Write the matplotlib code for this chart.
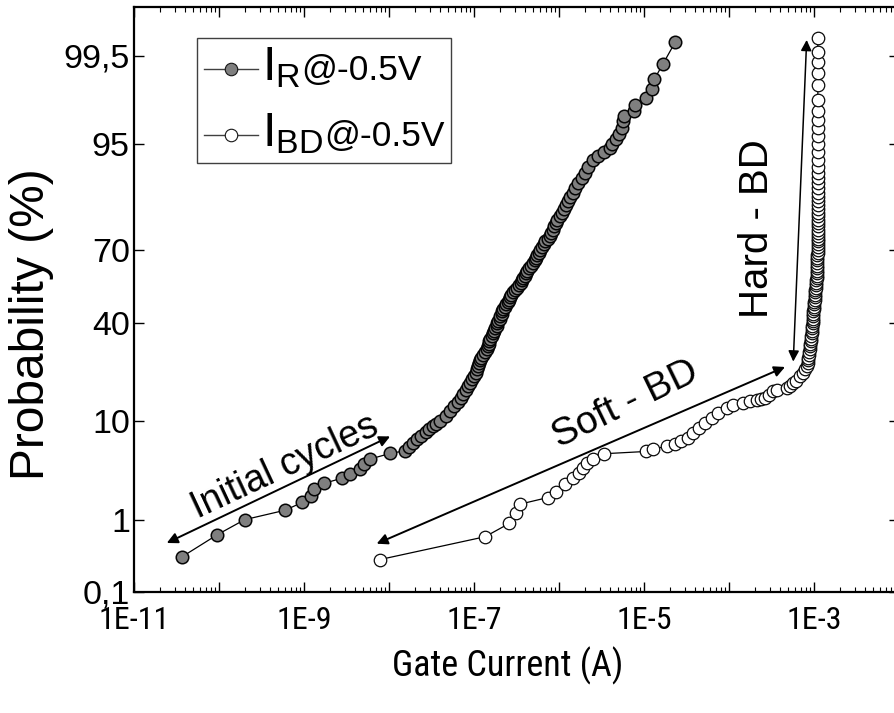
import numpy as np
import matplotlib
matplotlib.use('Agg')
import matplotlib.pyplot as plt
from matplotlib import font_manager
from matplotlib.ticker import LogLocator, FuncFormatter, FixedLocator, NullLocator
from matplotlib.offsetbox import AnchoredOffsetbox, DrawingArea, TextArea, HPacker, VPacker
from matplotlib.lines import Line2D
from statistics import NormalDist

# %% data (gate current in A, cumulative probability in %)
ir_current = [
    3.7e-11, 9.6e-11, 2.0e-10, 6.0e-10, 9.5e-10, 1.2e-9, 1.3e-9, 1.7e-9, 2.8e-9, 3.5e-9,
    4.5e-9, 5.1e-9, 6.0e-9, 1.04e-8,
    1.54e-8, 1.72e-8, 1.91e-8, 2.13e-8, 2.41e-8, 2.72e-8, 2.99e-8, 3.30e-8, 3.62e-8, 3.98e-8,
    4.69e-8, 5.23e-8, 5.82e-8, 6.49e-8, 7.03e-8, 7.51e-8, 8.05e-8, 8.49e-8, 8.97e-8,
    9.46e-8, 1.00e-7, 1.06e-7, 1.08e-7, 1.11e-7, 1.13e-7, 1.18e-7, 1.22e-7, 1.28e-7, 1.35e-7,
    1.42e-7, 1.46e-7, 1.49e-7, 1.52e-7, 1.56e-7, 1.61e-7, 1.66e-7, 1.72e-7, 1.78e-7, 1.84e-7,
    1.89e-7, 1.94e-7, 2.00e-7, 2.05e-7, 2.11e-7, 2.16e-7, 2.22e-7, 2.30e-7, 2.38e-7, 2.48e-7,
    2.55e-7, 2.65e-7, 2.76e-7, 2.90e-7, 3.03e-7, 3.21e-7, 3.38e-7, 3.57e-7, 3.72e-7, 3.77e-7,
    3.93e-7, 4.09e-7, 4.26e-7, 4.44e-7, 4.69e-7, 4.94e-7, 5.23e-7, 5.36e-7, 5.58e-7, 5.82e-7,
    5.97e-7, 6.25e-7, 6.58e-7, 6.93e-7, 7.43e-7, 7.83e-7, 8.11e-7, 8.39e-7, 8.73e-7, 9.10e-7,
    9.59e-7, 1.03e-6, 1.08e-6, 1.15e-6, 1.21e-6, 1.29e-6, 1.36e-6, 1.46e-6, 1.54e-6, 1.68e-6,
    1.84e-6, 2.00e-6, 2.19e-6, 2.51e-6, 2.88e-6, 3.38e-6, 3.98e-6, 4.25e-6, 4.69e-6, 5.08e-6,
    5.47e-6, 5.70e-6, 5.86e-6, 7.62e-6, 7.94e-6, 1.06e-5, 1.23e-5, 1.32e-5, 1.66e-5, 2.32e-5,
]
ir_prob = [
    0.33, 0.65, 1.0, 1.3, 1.6, 1.9, 2.25, 2.6, 2.95, 3.3,
    3.7, 4.1, 4.6, 5.2,
    5.5, 6, 6.5, 7, 7.5, 8, 8.5, 9, 9.5, 10,
    11, 12, 13, 14, 15, 16, 17, 18, 19,
    20, 21, 22, 23, 24, 25, 26, 27, 28, 29,
    30, 31, 32, 33, 34, 35, 36, 37, 38, 39,
    40, 41, 42, 43, 44, 45, 46, 47, 48, 49,
    50, 51, 52, 53, 54, 55, 56, 57, 58, 59,
    60, 61, 62, 63, 64, 65, 66, 67, 68, 69,
    70, 71, 72, 73, 74, 75, 76, 77, 78, 79,
    80, 81, 82, 83, 84, 85, 86, 87, 88, 89,
    90, 91, 92, 93, 93.5, 94, 94.5, 95, 95.5, 96,
    96.5, 97, 97.35, 97.7, 98.0, 98.35, 98.7, 99.0, 99.35, 99.67,
]

ibd_current = [
    7.8e-9, 1.35e-7, 2.60e-7, 3.10e-7, 3.47e-7, 7.38e-7, 9.29e-7, 1.19e-6, 1.47e-6, 1.72e-6,
    1.93e-6, 2.16e-6, 2.54e-6, 3.36e-6, 1.06e-5, 1.28e-5, 1.85e-5, 2.32e-5, 2.72e-5, 3.25e-5,
    3.80e-5, 4.44e-5, 5.23e-5, 6.25e-5, 7.48e-5, 9.4e-5, 1.12e-4, 1.47e-4, 1.77e-4, 2.12e-4,
    2.38e-4, 2.66e-4, 2.96e-4, 3.32e-4, 3.67e-4, 4.77e-4, 5.22e-4, 5.70e-4, 6.14e-4, 6.84e-4,
    7.52e-4, 7.83e-4, 8.2e-4, 8.39e-4, 8.49e-4, 8.6e-4, 8.73e-4, 8.8e-4,
    8.87e-4, 8.93e-4, 9.0e-4, 9.1e-4, 9.17e-4, 9.25e-4, 9.37e-4, 9.43e-4, 9.5e-4, 9.55e-4,
    9.62e-4, 9.68e-4, 9.73e-4, 9.76e-4, 9.8e-4, 9.86e-4, 9.9e-4, 9.96e-4, 1.005e-3, 1.01e-3,
    1.015e-3, 1.02e-3, 1.027e-3, 1.035e-3, 1.04e-3, 1.047e-3, 1.055e-3, 1.06e-3, 1.07e-3, 1.075e-3,
    1.08e-3, 1.083e-3, 1.087e-3, 1.09e-3, 1.09e-3, 1.09e-3, 1.09e-3, 1.093e-3, 1.095e-3, 1.10e-3,
    1.10e-3, 1.10e-3, 1.10e-3, 1.10e-3, 1.10e-3, 1.10e-3, 1.10e-3, 1.10e-3, 1.10e-3, 1.10e-3,
    1.10e-3, 1.10e-3, 1.10e-3, 1.10e-3, 1.10e-3, 1.10e-3, 1.105e-3, 1.105e-3, 1.105e-3, 1.105e-3,
    1.105e-3, 1.105e-3, 1.105e-3, 1.11e-3, 1.11e-3, 1.11e-3, 1.11e-3, 1.11e-3, 1.11e-3, 1.11e-3,
    1.11e-3, 1.11e-3, 1.11e-3, 1.11e-3, 1.11e-3, 1.11e-3,
]
ibd_prob = [
    0.30, 0.61, 0.90, 1.22, 1.53, 1.82, 2.1, 2.57, 2.97, 3.34,
    3.75, 4.16, 4.55, 5.16, 5.42, 5.68, 6.08, 6.38, 6.69, 7.16,
    7.92, 8.73, 9.6, 10.5, 11.6, 12.6, 13.3, 13.7, 14.1, 14.3,
    14.7, 14.9, 15.7, 16.6, 16.9, 17.5, 18.1, 18.9, 19.5, 20.8,
    22, 23, 24, 25, 26, 27, 28, 29,
    30, 31, 32, 33, 34, 35, 36, 37, 38, 39,
    40, 41, 42, 43, 44, 45, 46, 47, 48, 49,
    50, 51, 52, 53, 54, 55, 56, 57, 58, 59,
    60, 61, 62, 63, 64, 65, 66, 67, 68, 69,
    70, 71, 72, 73, 74, 75, 76, 77, 78, 79,
    80, 81, 82, 83, 84, 85, 86, 87, 88, 89,
    90, 91, 92, 93, 94, 95, 95.8, 96.5, 97.1, 97.7,
    98.25, 98.83, 99.16, 99.40, 99.56, 99.71,
]

prob_ticks = [0.1, 1, 10, 40, 70, 95, 99.5]
prob_ticklabels = ['0,1', '1', '10', '40', '70', '95', '99,5']


# %% fonts
def have_font(name):
    try:
        font_manager.findfont(font_manager.FontProperties(family=name), fallback_to_default=False)
        return True
    except Exception:
        return False

main_font = 'Liberation Sans' if have_font('Liberation Sans') else 'DejaVu Sans'

# a narrow face for the x axis texts, if one is installed
narrow_family = None
for f in ['Liberation Sans Narrow', 'Arial Narrow', 'Roboto Condensed', 'Open Sans Condensed']:
    if have_font(f):
        narrow_family = f
        break

plt.rcParams['font.family'] = [main_font, 'DejaVu Sans']


# %% probability (normal) scale
nd = NormalDist()

def _ppf(v):
    return nd.inv_cdf(v / 100.0) if np.isfinite(v) else np.nan

def _cdf(v):
    return nd.cdf(v) * 100.0 if np.isfinite(v) else np.nan

ppf_vec = np.vectorize(_ppf, otypes=[float])
cdf_vec = np.vectorize(_cdf, otypes=[float])

def prob_fwd(p):
    p = np.clip(np.asarray(p, dtype=float), 1e-7, 100 - 1e-7)
    return ppf_vec(p)

def prob_inv(z):
    return cdf_vec(np.asarray(z, dtype=float))


# %% figure
fig = plt.figure(figsize=(8.94, 7.13), dpi=100)
ax = fig.add_axes([134 / 894, 1 - 592 / 713, 765 / 894, 585 / 713])

ax.set_xscale('log')
ax.set_yscale('function', functions=(prob_fwd, prob_inv))
ax.set_xlim(1e-11, 1e-2)
ax.set_ylim(0.1, 99.9)

ax.plot(ir_current, ir_prob, '-o', color='black', lw=0.9, ms=9,
        mfc='#7f7f7f', mec='#050505', mew=1.1, zorder=3)
ax.plot(ibd_current, ibd_prob, '-o', color='black', lw=0.9, ms=9,
        mfc='white', mec='#0a0a0a', mew=0.9, zorder=3)

# ticks
ax.xaxis.set_major_locator(LogLocator(base=10, numticks=20))
ax.xaxis.set_minor_locator(LogLocator(base=10, subs=np.arange(2, 10), numticks=20))

def xfmt(v, pos):
    e = int(round(np.log10(v)))
    return '1E%d' % e if e % 2 else ''

ax.xaxis.set_major_formatter(FuncFormatter(xfmt))
ax.yaxis.set_major_locator(FixedLocator(prob_ticks))
ax.yaxis.set_major_formatter(FuncFormatter(lambda v, pos: prob_ticklabels[pos] if pos is not None and pos < len(prob_ticklabels) else ''))
ax.yaxis.set_minor_locator(NullLocator())

x_fam = [narrow_family, 'DejaVu Sans'] if narrow_family else [main_font, 'DejaVu Sans']
x_tick_size = 23 if narrow_family else 19
x_label_size = 26 if narrow_family else 22.5

ax.tick_params(axis='x', which='major', direction='in', length=7.5, width=1.0,
               top=True, bottom=True, pad=10, labelsize=x_tick_size)
ax.tick_params(axis='x', which='minor', direction='in', length=3.8, width=0.8, top=True, bottom=True)
ax.tick_params(axis='y', which='major', direction='in', length=7.5, width=1.0,
               left=True, right=True, pad=3, labelsize=24.5)
for lab in ax.get_xticklabels():
    lab.set_family(x_fam)

for s in ax.spines.values():
    s.set_linewidth(1.6)

ax.set_xlabel('Gate Current (A)', fontsize=x_label_size, family=x_fam, va='center', ha='center')
ax.xaxis.set_label_coords((508 - 134) / 765, (592 - 666) / 585)
ax.set_ylabel('Probability (%)', fontsize=34.5, va='center', ha='center')
ax.yaxis.set_label_coords((32 - 134) / 765, (592 - 324) / 585)

# annotations
arrow = dict(arrowstyle='<|-|>', color='black', lw=1.4, mutation_scale=16, shrinkA=0, shrinkB=0)
ax.annotate('', xy=(2.43e-11, 0.505), xytext=(1.03e-8, 7.4), arrowprops=arrow)
ax.annotate('', xy=(7.16e-9, 0.494), xytext=(4.56e-4, 23.8), arrowprops=arrow)
ax.annotate('', xy=(5.70e-4, 25.6), xytext=(8.20e-4, 99.695), arrowprops=dict(arrow, lw=1.1))

ax.text(5.97e-10, 3.86, 'Initial cycles', fontsize=27, rotation=25,
        ha='center', va='center', rotation_mode='anchor')
ax.text(5.97e-6, 13.3, 'Soft - BD', fontsize=28, rotation=26,
        ha='center', va='center', rotation_mode='anchor')
ax.text(2.13e-4, 77.2, 'Hard - BD', fontsize=29, rotation=90,
        ha='center', va='center', rotation_mode='anchor')


# legend built from offset boxes so the subscripts keep their size
def legend_row(face, sub):
    da = DrawingArea(39, 16, 0, 0)
    da.add_artist(Line2D([0, 39], [8, 8], color='#404040', lw=1.0))
    da.add_artist(Line2D([19.5], [8], marker='o', ms=9, mfc=face, mec='#151515', mew=0.8))
    t1 = TextArea(r'$\mathregular{I_{%s}}$' % sub, textprops=dict(fontsize=35))
    t2 = TextArea('@-0.5V', textprops=dict(fontsize=25.5))
    return HPacker(children=[da, HPacker(children=[t1, t2], align='baseline', pad=0, sep=0)],
                   align='baseline', pad=0, sep=3)

box = VPacker(children=[legend_row('#7f7f7f', 'R'), legend_row('white', 'BD')],
              align='left', pad=0, sep=15)
leg = AnchoredOffsetbox(loc='upper left', child=box, pad=0.5, borderpad=0,
                        frameon=True, bbox_to_anchor=(197 / 894, 1 - 38 / 713),
                        bbox_transform=fig.transFigure)
leg.patch.set_edgecolor('#404040')
leg.patch.set_linewidth(1.0)
leg.patch.set_boxstyle('square', pad=0)
ax.add_artist(leg)

fig.savefig('out.png', dpi=100)
